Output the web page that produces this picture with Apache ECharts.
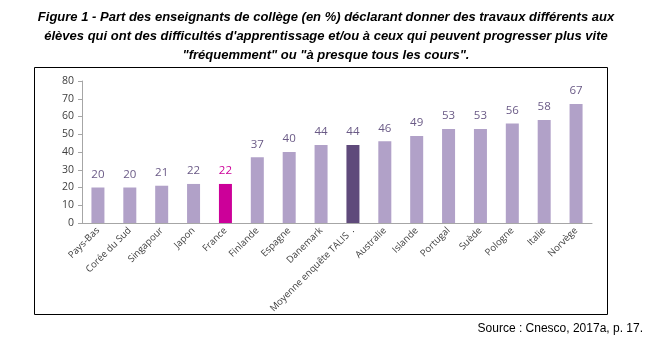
<!DOCTYPE html>
<html><head><meta charset="utf-8">
<script src="https://cdn.jsdelivr.net/npm/echarts@6/dist/echarts.min.js"></script>
<style>html,body{margin:0;padding:0;background:#fff}#c{width:652px;height:340px}</style>
</head><body><div id="c"></div>
<script>
var categories = ["Pays-Bas","Corée du Sud","Singapour","Japon","France","Finlande","Espagne","Danemark","Moyenne enquête TALIS  .","Australie","Islande","Portugal","Suède","Pologne","Italie","Norvège"];
var values = [20,20,21,22,22,37,40,44,44,46,49,53,53,56,58,67];
var yTicks = [0,10,20,30,40,50,60,70,80];
var titleText = "Figure 1 - Part des enseignants de collège (en %) déclarant donner des travaux différents aux\nélèves qui ont des difficultés d'apprentissage et/ou à ceux qui peuvent progresser plus vite\n\"fréquemment\" ou \"à presque tous les cours\".";
var sourceText = "Source : Cnesco, 2017a, p. 17.";

var base = "#B1A1C8", franceCol = "#CC0099", talisCol = "#5F4A7B";
var data = values.map(function(v,i){
  var c = base, lc = "#6A5A86";
  if (categories[i] === "France") { c = franceCol; lc = franceCol; }
  if (categories[i].indexOf("TALIS") >= 0) { c = talisCol; }
  return {value:v, itemStyle:{color:c}, label:{color:lc}};
});
var chart = echarts.init(document.getElementById('c'), null, {renderer:'canvas'});
chart.setOption({
  animation:false,
  title:{text:titleText, left:'center', top:3, textStyle:{fontFamily:'Liberation Sans', fontSize:13, fontWeight:'bold', fontStyle:'italic', color:'#000', lineHeight:19}},
  graphic:[
    {type:'rect', shape:{x:34.5,y:67.5,width:573,height:247}, style:{fill:'none', stroke:'#000', lineWidth:1}, z:-1},
    {type:'text', right:9, top:323, style:{text:sourceText, font:'12px "Liberation Sans"', fill:'#000'}}
  ],
  grid:{left:82, right:60, top:81, bottom:117},
  xAxis:{type:'category', data:categories, boundaryGap:true,
    axisLine:{lineStyle:{color:'#A6A6A6'}}, axisTick:{alignWithLabel:false, length:4, lineStyle:{color:'#A6A6A6'}},
    axisLabel:{rotate:45, interval:0, fontFamily:'Open Sans', fontSize:9.5, color:'#404040', margin:6}},
  yAxis:{type:'value', min:0, max:80, interval:10,
    axisLine:{show:true, lineStyle:{color:'#A6A6A6'}}, axisTick:{show:true, length:4, lineStyle:{color:'#A6A6A6'}},
    splitLine:{show:false},
    axisLabel:{fontFamily:'Open Sans', fontSize:10.5, color:'#404040', margin:8}},
  series:[{type:'bar', data:data, barWidth:13,
    label:{show:true, position:'top', distance:7, fontFamily:'Open Sans', fontSize:11.5}}]
});
</script></body></html>
